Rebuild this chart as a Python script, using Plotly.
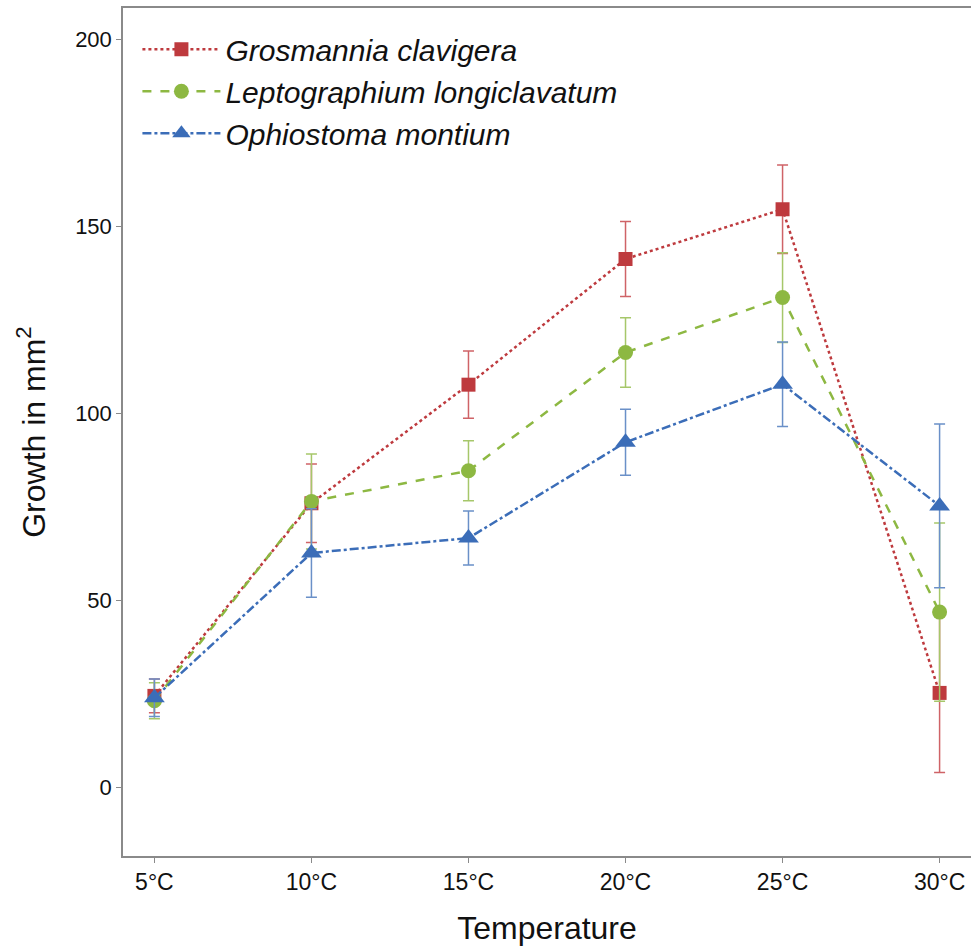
import plotly.graph_objects as go

temps = ["5°C", "10°C", "15°C", "20°C", "25°C", "30°C"]

grosmannia = [24.5, 76.0, 107.7, 141.3, 154.6, 25.3]
grosmannia_err = [4.5, 10.5, 9.0, 10.0, 11.8, 21.3]

lepto = [23.2, 76.5, 84.7, 116.3, 131.0, 46.9]
lepto_err = [4.8, 12.7, 8.0, 9.3, 12.0, 23.8]

ophio = [24.0, 62.7, 66.7, 92.3, 107.8, 75.3]
ophio_err = [5.0, 11.8, 7.2, 8.8, 11.3, 21.9]

series = [
    ("Grosmannia clavigera", grosmannia, grosmannia_err, "#BE3A3E", "#CF6367", "square", 14, "dot"),
    ("Leptographium longiclavatum", lepto, lepto_err, "#8DB842", "#A6C76A", "circle", 15, "dash"),
    ("Ophiostoma montium", ophio, ophio_err, "#3B6DB8", "#6A90C8", "triangle-up", 18, "dashdot"),
]

fig = go.Figure()
x_idx = list(range(len(temps)))
for name, vals, err, col, ecol, sym, size, dash in series:
    fig.add_trace(go.Scatter(
        x=x_idx, y=vals, name=f"<i>{name}</i>", mode="lines+markers",
        line=dict(color=col, width=2.5, dash=dash),
        marker=dict(symbol=sym, size=size, color=col),
        error_y=dict(type="data", array=err, visible=True, color=ecol, thickness=1.5, width=5.5),
    ))

fig.update_layout(
    width=971, height=950,
    margin=dict(l=123, r=0, t=8, b=94),
    paper_bgcolor="white", plot_bgcolor="white",
    font=dict(family="Liberation Sans, Arial, sans-serif", color="#111"),
    showlegend=True,
    legend=dict(x=0.017, y=0.982, xanchor="left", yanchor="top",
                font=dict(size=30, color="#111"), bgcolor="rgba(0,0,0,0)",
                tracegroupgap=0, itemwidth=78),
    xaxis=dict(
        tickmode="array", tickvals=x_idx, ticktext=temps,
        range=[-0.2, 5.2], showgrid=False, zeroline=False,
        showline=True, linecolor="#8a8a8a", linewidth=1.5, mirror=True,
        ticks="outside", ticklen=5, tickcolor="#8a8a8a",
        tickfont=dict(size=23),
        title=dict(text="Temperature", font=dict(size=32), standoff=22),
    ),
    yaxis=dict(
        range=[-18.3, 208.4], tickvals=[0, 50, 100, 150, 200],
        showgrid=False, zeroline=False,
        showline=True, linecolor="#8a8a8a", linewidth=1.5,
        ticks="outside", ticklen=5, tickcolor="#8a8a8a",
        tickfont=dict(size=22),
        title=dict(text="Growth in mm<sup>2</sup>", font=dict(size=32), standoff=20),
    ),
)

fig.write_html("out.html")
